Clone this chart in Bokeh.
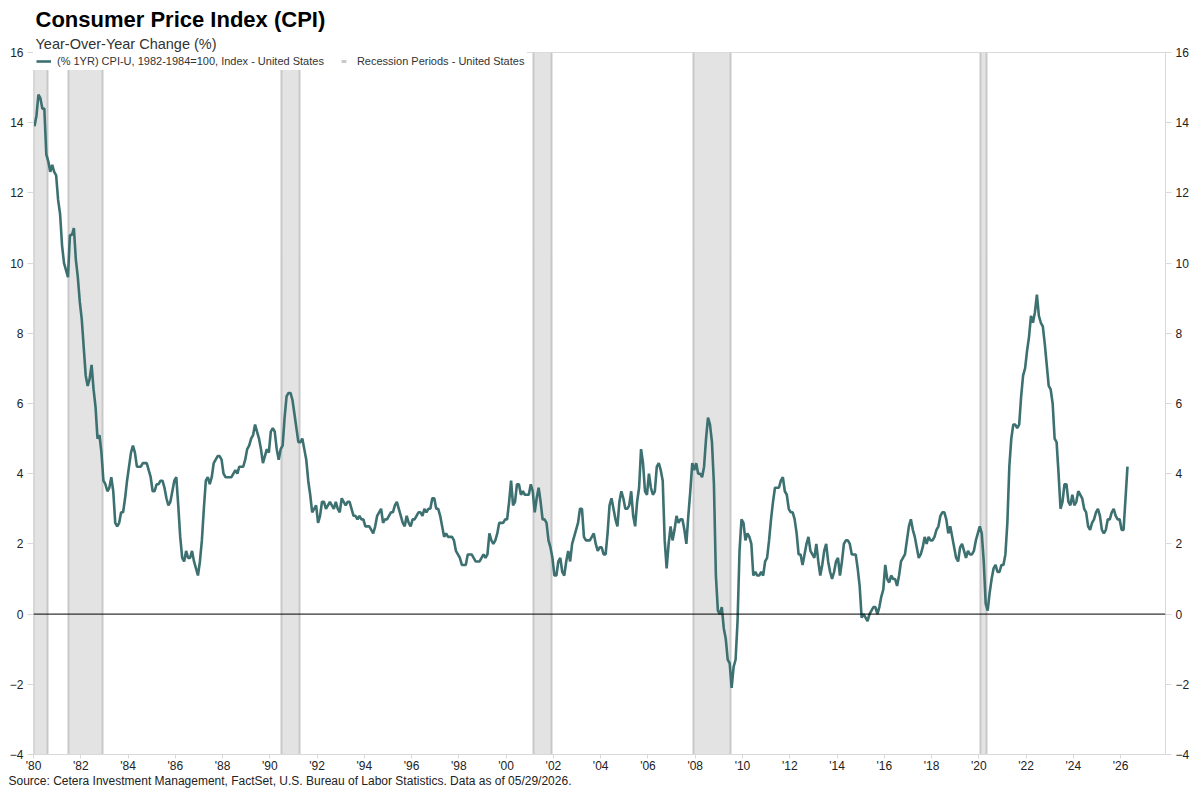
import math
from bokeh.plotting import figure
from bokeh.models import Range1d, FixedTicker, LinearAxis, Span, Legend, LegendItem, Title
from bokeh.embed import file_html
from bokeh.resources import INLINE

# ---------------- data ----------------
START_YEAR = 1980  # first observation: January 1980, monthly series

cpi_1980s = [
    13.9, 14.2, 14.8, 14.7, 14.4, 14.4, 13.1, 12.9, 12.6, 12.8, 12.6, 12.5,
    11.8, 11.4, 10.5, 10.0, 9.8, 9.6, 10.8, 10.8, 11.0, 10.1, 9.6, 8.9,
    8.4, 7.6, 6.8, 6.5, 6.7, 7.1, 6.4, 5.9, 5.0, 5.1, 4.6, 3.8,
    3.7, 3.5, 3.6, 3.9, 3.5, 2.6, 2.5, 2.6, 2.9, 2.9, 3.3, 3.8,
    4.2, 4.6, 4.8, 4.6, 4.2, 4.2, 4.2, 4.3, 4.3, 4.3, 4.1, 3.9,
    3.5, 3.5, 3.7, 3.7, 3.8, 3.8, 3.6, 3.3, 3.1, 3.2, 3.5, 3.8,
    3.9, 3.1, 2.2, 1.6, 1.5, 1.8, 1.6, 1.6, 1.8, 1.5, 1.3, 1.1,
    1.5, 2.1, 3.0, 3.8, 3.9, 3.7, 3.9, 4.3, 4.4, 4.5, 4.5, 4.4,
    4.0, 3.9, 3.9, 3.9, 3.9, 4.0, 4.1, 4.0, 4.2, 4.2, 4.2, 4.4,
    4.7, 4.8, 5.0, 5.1, 5.4, 5.2, 5.0, 4.7, 4.3, 4.5, 4.7, 4.6,
]
cpi_1990s = [
    5.2, 5.3, 5.2, 4.7, 4.4, 4.7, 4.8, 5.6, 6.2, 6.3, 6.3, 6.1,
    5.7, 5.3, 4.9, 4.9, 5.0, 4.7, 4.4, 3.8, 3.4, 2.9, 3.0, 3.1,
    2.6, 2.8, 3.2, 3.2, 3.0, 3.1, 3.2, 3.1, 3.0, 3.2, 3.0, 2.9,
    3.3, 3.2, 3.1, 3.2, 3.2, 3.0, 2.8, 2.8, 2.7, 2.8, 2.7, 2.7,
    2.5, 2.5, 2.5, 2.4, 2.3, 2.5, 2.8, 2.9, 3.0, 2.6, 2.7, 2.7,
    2.8, 2.9, 2.9, 3.1, 3.2, 3.0, 2.8, 2.6, 2.5, 2.8, 2.6, 2.5,
    2.7, 2.7, 2.8, 2.9, 2.9, 2.8, 3.0, 2.9, 3.0, 3.0, 3.3, 3.3,
    3.0, 3.0, 2.8, 2.5, 2.2, 2.3, 2.2, 2.2, 2.2, 2.1, 1.8, 1.7,
    1.6, 1.4, 1.4, 1.4, 1.7, 1.7, 1.7, 1.6, 1.5, 1.5, 1.5, 1.6,
    1.7, 1.6, 1.7, 2.3, 2.1, 2.0, 2.1, 2.3, 2.6, 2.6, 2.6, 2.7,
]
cpi_2000s = [
    2.7, 3.2, 3.8, 3.1, 3.2, 3.7, 3.7, 3.4, 3.5, 3.4, 3.4, 3.4,
    3.7, 3.5, 2.9, 3.3, 3.6, 3.2, 2.7, 2.7, 2.6, 2.1, 1.9, 1.6,
    1.1, 1.1, 1.5, 1.6, 1.2, 1.1, 1.5, 1.8, 1.5, 2.0, 2.2, 2.4,
    2.6, 3.0, 3.0, 2.2, 2.1, 2.1, 2.1, 2.2, 2.3, 2.0, 1.8, 1.9,
    1.9, 1.7, 1.7, 2.3, 3.1, 3.3, 3.0, 2.7, 2.5, 3.2, 3.5, 3.3,
    3.0, 3.0, 3.1, 3.5, 2.8, 2.5, 3.2, 3.6, 4.7, 4.3, 3.5, 3.4,
    4.0, 3.6, 3.4, 3.5, 4.2, 4.3, 4.1, 3.8, 2.1, 1.3, 2.0, 2.5,
    2.1, 2.4, 2.8, 2.6, 2.7, 2.7, 2.4, 2.0, 2.8, 3.5, 4.3, 4.1,
    4.3, 4.0, 4.0, 3.9, 4.2, 5.0, 5.6, 5.4, 4.9, 3.7, 1.1, 0.1,
    0.0, 0.2, -0.4, -0.7, -1.3, -1.4, -2.1, -1.5, -1.3, -0.2, 1.8, 2.7,
]
cpi_2010s = [
    2.6, 2.1, 2.3, 2.2, 2.0, 1.1, 1.2, 1.1, 1.1, 1.2, 1.1, 1.5,
    1.6, 2.1, 2.7, 3.2, 3.6, 3.6, 3.6, 3.8, 3.9, 3.5, 3.4, 3.0,
    2.9, 2.9, 2.7, 2.3, 1.7, 1.7, 1.4, 1.7, 2.0, 2.2, 1.8, 1.7,
    1.6, 2.0, 1.5, 1.1, 1.4, 1.8, 2.0, 1.5, 1.2, 1.0, 1.2, 1.5,
    1.6, 1.1, 1.5, 2.0, 2.1, 2.1, 2.0, 1.7, 1.7, 1.7, 1.3, 0.8,
    -0.1, 0.0, -0.1, -0.2, 0.0, 0.1, 0.2, 0.2, 0.0, 0.2, 0.5, 0.7,
    1.4, 1.0, 0.9, 1.1, 1.0, 1.0, 0.8, 1.1, 1.5, 1.6, 1.7, 2.1,
    2.5, 2.7, 2.4, 2.2, 1.9, 1.6, 1.7, 1.9, 2.2, 2.0, 2.2, 2.1,
    2.1, 2.2, 2.4, 2.5, 2.8, 2.9, 2.9, 2.7, 2.3, 2.5, 2.2, 1.9,
    1.6, 1.5, 1.9, 2.0, 1.8, 1.6, 1.8, 1.7, 1.7, 1.8, 2.1, 2.3,
]
cpi_2020s = [
    2.5, 2.3, 1.5, 0.3, 0.1, 0.6, 1.0, 1.3, 1.4, 1.2, 1.2, 1.4,
    1.4, 1.7, 2.6, 4.2, 5.0, 5.4, 5.4, 5.3, 5.4, 6.2, 6.8, 7.0,
    7.5, 7.9, 8.5, 8.3, 8.6, 9.1, 8.5, 8.3, 8.2, 7.7, 7.1, 6.5,
    6.4, 6.0, 5.0, 4.9, 4.0, 3.0, 3.2, 3.7, 3.7, 3.2, 3.1, 3.4,
    3.1, 3.2, 3.5, 3.4, 3.3, 3.0, 2.9, 2.5, 2.4, 2.6, 2.7, 2.9,
    3.0, 2.8, 2.4, 2.3, 2.4, 2.7, 2.7, 2.9, 3.0, 2.8, 2.7, 2.7,
    2.4, 2.4, 3.3, 4.2,
]

recession_start = ["1980-01", "1981-07", "1990-07", "2001-03", "2007-12", "2020-02"]
recession_end = ["1980-07", "1982-11", "1991-03", "2001-11", "2009-06", "2020-04"]

x_ticks = [1980, 1982, 1984, 1986, 1988, 1990, 1992, 1994, 1996, 1998, 2000, 2002,
           2004, 2006, 2008, 2010, 2012, 2014, 2016, 2018, 2020, 2022, 2024, 2026]
x_tick_labels = ["'80", "'82", "'84", "'86", "'88", "'90", "'92", "'94", "'96", "'98", "'00", "'02",
                 "'04", "'06", "'08", "'10", "'12", "'14", "'16", "'18", "'20", "'22", "'24", "'26"]
y_ticks = [-4, -2, 0, 2, 4, 6, 8, 10, 12, 14, 16]

series_label = "(% 1YR) CPI-U, 1982-1984=100, Index - United States"
recession_label = "Recession Periods - United States"
title_text = "Consumer Price Index (CPI)"
subtitle_text = "Year-Over-Year Change (%)"
source_text = ("Source: Cetera Investment Management, FactSet, U.S. Bureau of Labor Statistics. "
               "Data as of 05/29/2026.")

# ---------------- derived positions (fractional years) ----------------
cpi_yoy = cpi_1980s + cpi_1990s + cpi_2000s + cpi_2010s + cpi_2020s
months_x = [START_YEAR + i / 12 + 1 / 24 for i in range(len(cpi_yoy))]


def ym_start(s):
    y, m = s.split("-")
    return int(y) + (int(m) - 1) / 12


def ym_end(s):
    y, m = s.split("-")
    return int(y) + int(m) / 12


rec_x0 = [ym_start(s) for s in recession_start]
rec_x1 = [ym_end(s) for s in recession_end]

# ---------------- styling ----------------
FONT = "Liberation Sans"
LINE_COLOR = "#3d7070"
BAND_FILL = "#E3E3E3"
BAND_EDGE = "#C8C8C8"
FRAME_GRAY = "#D9D9D9"
TEXT = "#222222"

p = figure(
    width=1192, height=788,
    x_range=Range1d(1980, 2027.9), y_range=Range1d(-4, 16),
    output_backend="svg", toolbar_location=None, title_location=None,
    min_border_left=33, min_border_right=24, min_border_top=52, min_border_bottom=31,
    background_fill_color="white", border_fill_color="white",
    outline_line_color=FRAME_GRAY,
)
p.xgrid.visible = False
p.ygrid.visible = False

bands = p.vstrip(x0=rec_x0, x1=rec_x1, fill_color=BAND_FILL, line_color=BAND_EDGE, line_width=2)
line = p.line(months_x, cpi_yoy, line_color=LINE_COLOR, line_width=2.6)
# legend-only key for the recession bands (a thin vertical bar)
leg_dummy = p.scatter(x=[math.nan], y=[math.nan], marker="dash", angle=math.pi / 2, size=8,
                      line_color=BAND_EDGE, line_width=3)

p.add_layout(Span(location=0, dimension="width", line_color="black", line_width=1))


def style_axis(ax, tick_out, standoff):
    ax.axis_line_color = FRAME_GRAY
    ax.major_tick_line_color = FRAME_GRAY
    ax.major_tick_out = tick_out
    ax.major_tick_in = 0
    ax.minor_tick_line_color = None
    ax.major_label_text_font = FONT
    ax.major_label_text_font_size = "12px"
    ax.major_label_text_color = TEXT
    ax.major_label_standoff = standoff


p.xaxis.ticker = FixedTicker(ticks=x_ticks)
p.xaxis.major_label_overrides = dict(zip(x_ticks, x_tick_labels))
style_axis(p.xaxis[0], 4, 0)

p.yaxis.ticker = FixedTicker(ticks=y_ticks)
style_axis(p.yaxis[0], 6, 4)

right_axis = LinearAxis(ticker=FixedTicker(ticks=y_ticks))
style_axis(right_axis, 6, 4)
p.add_layout(right_axis, "right")

legend = Legend(
    items=[LegendItem(label=series_label, renderers=[line]),
           LegendItem(label=recession_label, renderers=[leg_dummy])],
    location="top_left", orientation="horizontal",
    background_fill_color="white", background_fill_alpha=1.0,
    border_line_alpha=0, margin=0, padding=3, spacing=12,
    glyph_width=15, glyph_height=12, label_height=12, label_standoff=6,
    label_text_font=FONT, label_text_font_size="11px", label_text_color="#333333",
)
p.add_layout(legend)

# titles (first added sits closest to the frame)
p.add_layout(Title(text=subtitle_text, text_font=FONT, text_font_size="14.5px",
                   text_font_style="normal", text_color="#333333", offset=2, standoff=2), "above")
p.add_layout(Title(text=title_text, text_font=FONT, text_font_size="22px",
                   text_font_style="bold", text_color="black", offset=2, standoff=2), "above")
p.add_layout(Title(text=source_text, text_font=FONT, text_font_size="12px",
                   text_font_style="normal", text_color=TEXT, align="left", offset=-25,
                   vertical_align="top", standoff=-3), "below")

open("out.html", "w").write(file_html(p, INLINE))
